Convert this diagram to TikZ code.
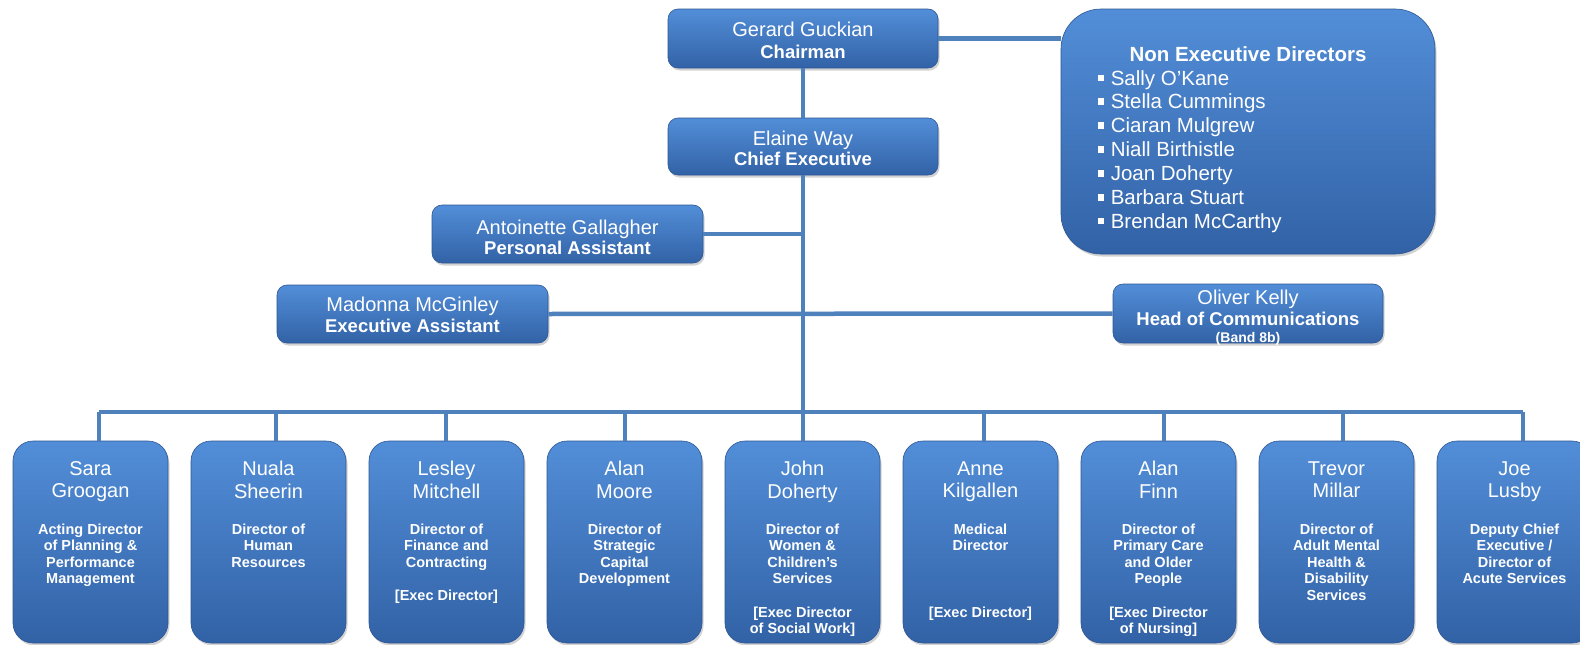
\documentclass[tikz,border=0pt]{standalone}
\usepackage{fontspec}
\setmainfont{Liberation Sans}
\usetikzlibrary{shadows}
\definecolor{boxtop}{RGB}{82,142,216}
\definecolor{boxbot}{RGB}{50,98,166}
\definecolor{boxedge}{RGB}{46,86,148}
\definecolor{linec}{RGB}{79,129,189}
\begin{document}
\begin{tikzpicture}[x=1pt,y=-1pt,
  boxbase/.style={draw=boxedge, line width=0.6pt, top color=boxtop, bottom color=boxbot, inner sep=0pt,
    drop shadow={shadow xshift=1.5pt, shadow yshift=-2.5pt, opacity=0.35}},
  topbox/.style={boxbase, rounded corners=10pt},
  botbox/.style={boxbase, rounded corners=20pt, minimum width=155pt, minimum height=202pt},
  nedbox/.style={boxbase, rounded corners=40pt},
  conn/.style={draw=linec, line width=4.5pt},
  nm/.style={text=white, inner sep=0pt, anchor=base, font=\fontsize{20}{23.5}\selectfont},
  rl/.style={text=white, inner sep=0pt, anchor=base, font=\fontsize{18.5}{21}\selectfont\bfseries},
  bname/.style={text=white, inner sep=0pt, anchor=north, align=center, font=\fontsize{20}{22.3}\selectfont},
  brole/.style={text=white, inner sep=0pt, anchor=north, align=center, font=\fontsize{14.5}{16.6}\selectfont\bfseries}]
\useasboundingbox (0,0) rectangle (1580,645);
\fill[white] (0,0) rectangle (1580,645);

% coordinates for the bus
\foreach \i/\x in {0/99,1/276,2/446,3/625,4/803,5/984,6/1164,7/1343,8/1523}
  \coordinate (d\i) at (\x,412);

% boxes
\node[topbox, minimum width=270pt, minimum height=59pt] (chair) at (803,38.5) {};
\node[topbox, minimum width=270pt, minimum height=57pt] (ce) at (803,146.5) {};
\node[topbox, minimum width=271pt, minimum height=58pt] (ant) at (567.5,234) {};
\node[topbox, minimum width=271pt, minimum height=58pt] (mad) at (412.5,314) {};
\node[topbox, minimum width=270pt, minimum height=59pt] (oli) at (1248,313.5) {};
\node[nedbox, minimum width=374pt, minimum height=245pt] (ned) at (1248,131.5) {};
\foreach \i in {0,...,8}
  \node[botbox] (b\i) at ({90.5+178*\i},542) {};

% connectors
\draw[conn] (chair.south) -- (ce.north);
\draw[conn] (chair.east) -- (chair.east -| ned.west);
\draw[conn] (ce.south) -- (d4);
\draw[conn] (ant.east) -- (ant.east -| ce.south);
\draw[conn] (mad.east) -- (oli.west);
\draw[conn] (d0) -- (d8);
\foreach \i in {0,...,8}
  \draw[conn] (d\i) -- (d\i |- b\i.north);

% top box texts
\node[nm] (chairN) at (803,36.7) {Gerard Guckian};
\node[rl] (chairR) at (803,58.3) {Chairman};
\node[nm] (ceN) at (803,145) {Elaine Way};
\node[rl] (ceR) at (803,165.7) {Chief Executive};
\node[nm] (antN) at (567.5,234) {Antoinette Gallagher};
\node[rl] (antR) at (567.5,254) {Personal Assistant};
\node[nm] (madN) at (412.5,311.7) {Madonna McGinley};
\node[rl] (madR) at (412.5,332.7) {Executive Assistant};
\node[nm] (oliN) at (1248,304.3) {Oliver Kelly};
\node[rl] (oliR) at (1248,325) {Head of Communications};
\node[rl, font=\fontsize{14}{16}\selectfont\bfseries] (oliB) at (1248,342.5) {(Band 8b)};

% non executive directors
\node[rl, font=\fontsize{20.5}{24}\selectfont\bfseries] (nedT) at (1248,61.3) {Non Executive Directors};
\foreach \n [count=\k] in {Sally O’Kane, Stella Cummings, Ciaran Mulgrew, Niall Birthistle, Joan Doherty, Barbara Stuart, Brendan McCarthy}
  \node[nm, anchor=base west, font=\fontsize{20.5}{24}\selectfont] (ned\k) at (1110.6,{85+23.9*(\k-1)})
    {\llap{\rule[4pt]{6.5pt}{6.5pt}\hspace{6.6pt}}\n};

% bottom boxes texts
\foreach \i/\nme/\role in {
  0/{Sara\\Groogan}/{Acting Director\\of Planning \&\\Performance\\Management},
  1/{Nuala\\Sheerin}/{Director of\\Human\\Resources},
  2/{Lesley\\Mitchell}/{Director of\\Finance and\\Contracting\\[16.6pt][Exec Director]},
  3/{Alan\\Moore}/{Director of\\Strategic\\Capital\\Development},
  4/{John\\Doherty}/{Director of\\Women \&\\Children’s\\Services\\[16.6pt][Exec Director\\of Social Work]},
  5/{Anne\\Kilgallen}/{Medical\\Director\\[49.8pt][Exec Director]},
  6/{Alan\\Finn}/{Director of\\Primary Care\\and Older\\People\\[16.6pt][Exec Director\\of Nursing]},
  7/{Trevor\\Millar}/{Director of\\Adult Mental\\Health \&\\Disability\\Services},
  8/{Joe\\Lusby}/{Deputy Chief\\Executive /\\Director of\\Acute Services}}
{
  \node[bname] (bn\i) at ({90.5+178*\i},461.3) {\nme};
  \node[brole] (br\i) at ({90.5+178*\i},523.4) {\role};
}
\end{tikzpicture}
\end{document}
